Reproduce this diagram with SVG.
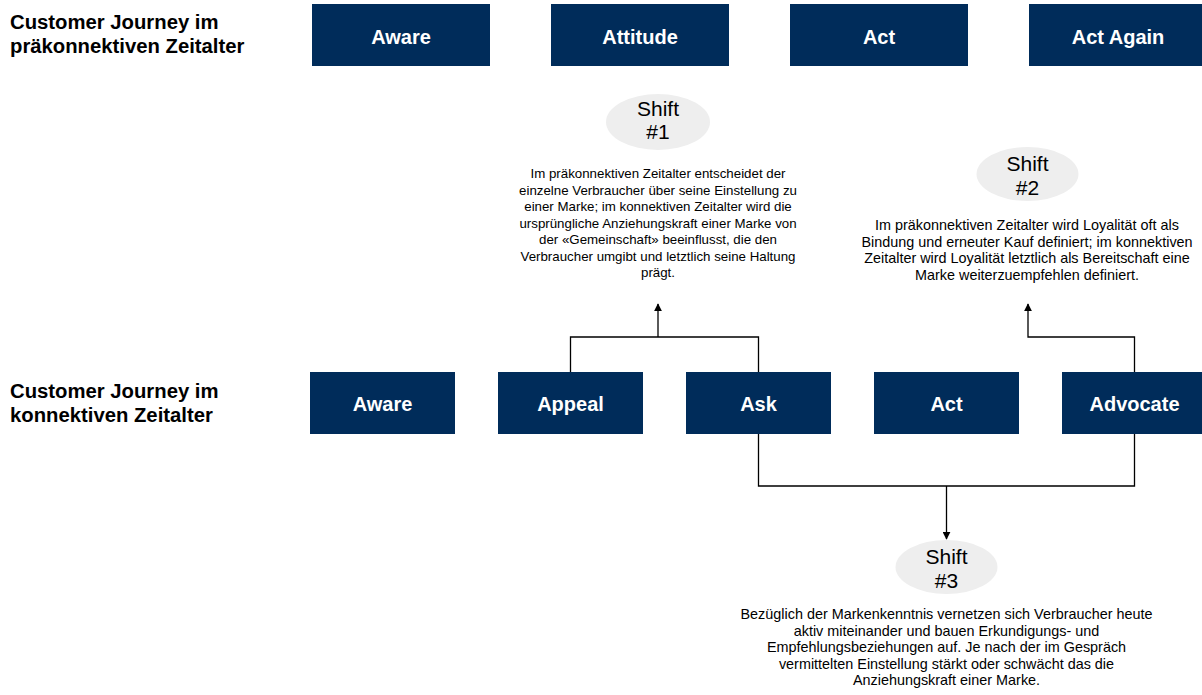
<svg xmlns="http://www.w3.org/2000/svg" width="1202" height="695" viewBox="0 0 1202 695">
<style>
.box{fill:#002c5a}
.bt{font-family:"Liberation Sans",Arial,sans-serif;font-weight:bold;font-size:20px;fill:#ffffff;text-anchor:middle}
.lbl{font-family:"Liberation Sans",Arial,sans-serif;font-weight:bold;font-size:20.3px;fill:#000000}
.ell{fill:#eeeeee}
.st{font-family:"Liberation Sans",Arial,sans-serif;font-size:21px;fill:#000000;text-anchor:middle}
.body{font-family:"Liberation Sans",Arial,sans-serif;font-size:13.3px;fill:#000000;text-anchor:middle}
.body2{font-family:"Liberation Sans",Arial,sans-serif;font-size:14.4px;fill:#000000;text-anchor:middle}
.con{fill:none;stroke:#000000;stroke-width:1.3}
</style>
<defs>
<marker id="arr" viewBox="0 0 10 10" refX="9" refY="5" markerWidth="8" markerHeight="8" markerUnits="userSpaceOnUse" orient="auto">
<path d="M0,0 L10,5 L0,10 z" fill="#000000"/>
</marker>
</defs>
<g id="labels">
<text class="lbl" x="10" y="29">Customer Journey im</text>
<text class="lbl" x="10" y="53">präkonnektiven Zeitalter</text>
<text class="lbl" x="10" y="398">Customer Journey im</text>
<text class="lbl" x="10" y="422">konnektiven Zeitalter</text>
</g>
<g id="connectors">
<path class="con" d="M570.5,372 V337 H758.5 V372"/>
<path class="con" d="M658,337 V304" marker-end="url(#arr)"/>
<path class="con" d="M1134.5,372 V337 H1028 V304" marker-end="url(#arr)"/>
<path class="con" d="M758.5,434 V486 H1134.5 V434"/>
<path class="con" d="M946.5,486 V539" marker-end="url(#arr)"/>
</g>
<g id="top-aware"><rect class="box" x="312" y="4" width="178" height="62"/><text class="bt" x="401" y="44">Aware</text></g>
<g id="top-attitude"><rect class="box" x="551" y="4" width="178" height="62"/><text class="bt" x="640" y="44">Attitude</text></g>
<g id="top-act"><rect class="box" x="790" y="4" width="178" height="62"/><text class="bt" x="879" y="44">Act</text></g>
<g id="top-actagain"><rect class="box" x="1029" y="4" width="178" height="62"/><text class="bt" x="1118" y="44">Act Again</text></g>
<g id="bot-aware"><rect class="box" x="310" y="372" width="145" height="62"/><text class="bt" x="382.5" y="411">Aware</text></g>
<g id="bot-appeal"><rect class="box" x="498" y="372" width="145" height="62"/><text class="bt" x="570.5" y="411">Appeal</text></g>
<g id="bot-ask"><rect class="box" x="686" y="372" width="145" height="62"/><text class="bt" x="758.5" y="411">Ask</text></g>
<g id="bot-act"><rect class="box" x="874" y="372" width="145" height="62"/><text class="bt" x="946.5" y="411">Act</text></g>
<g id="bot-advocate"><rect class="box" x="1062" y="372" width="145" height="62"/><text class="bt" x="1134.5" y="411">Advocate</text></g>
<g id="shift1">
<ellipse class="ell" cx="658" cy="122" rx="52" ry="28"/>
<text class="st" x="658" y="116">Shift</text>
<text class="st" x="658" y="139">#1</text>
<text class="body" x="658" y="178">Im präkonnektiven Zeitalter entscheidet der</text>
<text class="body" x="658" y="194.5">einzelne Verbraucher über seine Einstellung zu</text>
<text class="body" x="658" y="211">einer Marke; im konnektiven Zeitalter wird die</text>
<text class="body" x="658" y="227.5">ursprüngliche Anziehungskraft einer Marke von</text>
<text class="body" x="658" y="244">der «Gemeinschaft» beeinflusst, die den</text>
<text class="body" x="658" y="260.5">Verbraucher umgibt und letztlich seine Haltung</text>
<text class="body" x="658" y="277">prägt.</text>
</g>
<g id="shift2">
<ellipse class="ell" cx="1027.5" cy="174" rx="51" ry="27"/>
<text class="st" x="1027.5" y="171">Shift</text>
<text class="st" x="1027.5" y="195">#2</text>
<text class="body2" x="1027" y="230">Im präkonnektiven Zeitalter wird Loyalität oft als</text>
<text class="body2" x="1027" y="246.5">Bindung und erneuter Kauf definiert; im konnektiven</text>
<text class="body2" x="1027" y="263">Zeitalter wird Loyalität letztlich als Bereitschaft eine</text>
<text class="body2" x="1027" y="279.5">Marke weiterzuempfehlen definiert.</text>
</g>
<g id="shift3">
<ellipse class="ell" cx="946.5" cy="567" rx="51" ry="27"/>
<text class="st" x="946.5" y="563.5">Shift</text>
<text class="st" x="946.5" y="587.5">#3</text>
<text class="body2" x="946.5" y="619">Bezüglich der Markenkenntnis vernetzen sich Verbraucher heute</text>
<text class="body2" x="946.5" y="635.5">aktiv miteinander und bauen Erkundigungs- und</text>
<text class="body2" x="946.5" y="652">Empfehlungsbeziehungen auf. Je nach der im Gespräch</text>
<text class="body2" x="946.5" y="668.5">vermittelten Einstellung stärkt oder schwächt das die</text>
<text class="body2" x="946.5" y="685">Anziehungskraft einer Marke.</text>
</g>
</svg>
